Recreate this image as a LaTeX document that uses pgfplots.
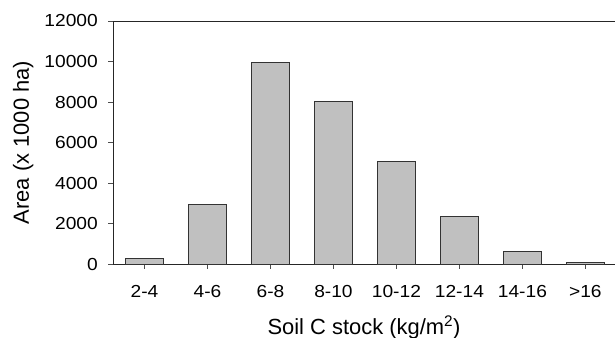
\documentclass[border=0pt]{standalone}
\usepackage{fontspec}
\setmainfont{Liberation Sans}
\usepackage{pgfplots}
\pgfplotsset{compat=1.18}
\begin{document}
\begin{tikzpicture}
\useasboundingbox (-113bp,-74bp) rectangle (502bp,264bp);
\begin{axis}[
  at={(0,0)}, anchor=south west,
  scale only axis,
  width=502bp, height=243bp,
  xmin=-0.5, xmax=7.47,
  ymin=0, ymax=12000,
  axis x line=box,
  axis y line=left,
  axis line style={-, line width=0.9bp, black!85},
  xtick={0,1,2,3,4,5,6,7},
  xticklabels={2-4,4-6,6-8,8-10,10-12,12-14,14-16,>16},
  ytick={0,2000,4000,6000,8000,10000,12000},
  xtick pos=bottom, ytick pos=left,
  tick align=outside,
  major tick length=4.5bp,
  tick style={line width=0.9bp, black!70},
  /pgf/number format/assume math mode=true,
  scaled y ticks=false,
  yticklabel style={/pgf/number format/fixed, /pgf/number format/1000 sep={}, font=\fontsize{17.5}{21}\selectfont, xscale=1.1, anchor=east, inner sep=0pt, xshift=-9.5bp},
  xticklabel style={font=\fontsize{17.5}{21}\selectfont, xscale=1.1, anchor=north, inner sep=0pt, yshift=-16.5bp},
  xlabel={Soil C stock (kg/m\textsuperscript{2})},
  ylabel={Area (x 1000 ha)},
  label style={font=\fontsize{22}{26}\selectfont},
  xlabel style={at={(axis description cs:0.5,0)}, anchor=base, yshift=-70bp, inner sep=0pt},
  ylabel style={at={(axis description cs:0,0.5)}, anchor=base, yshift=84bp, inner sep=0pt},
  clip=false,
]
\addplot[ybar, bar width=38bp, fill={rgb,255:red,192;green,192;blue,192}, draw=black!80, line width=0.9bp]
  coordinates {(0,250) (1,2950) (2,9930) (3,8030) (4,5070) (5,2370) (6,640) (7,70)};
\end{axis}
\end{tikzpicture}
\end{document}
